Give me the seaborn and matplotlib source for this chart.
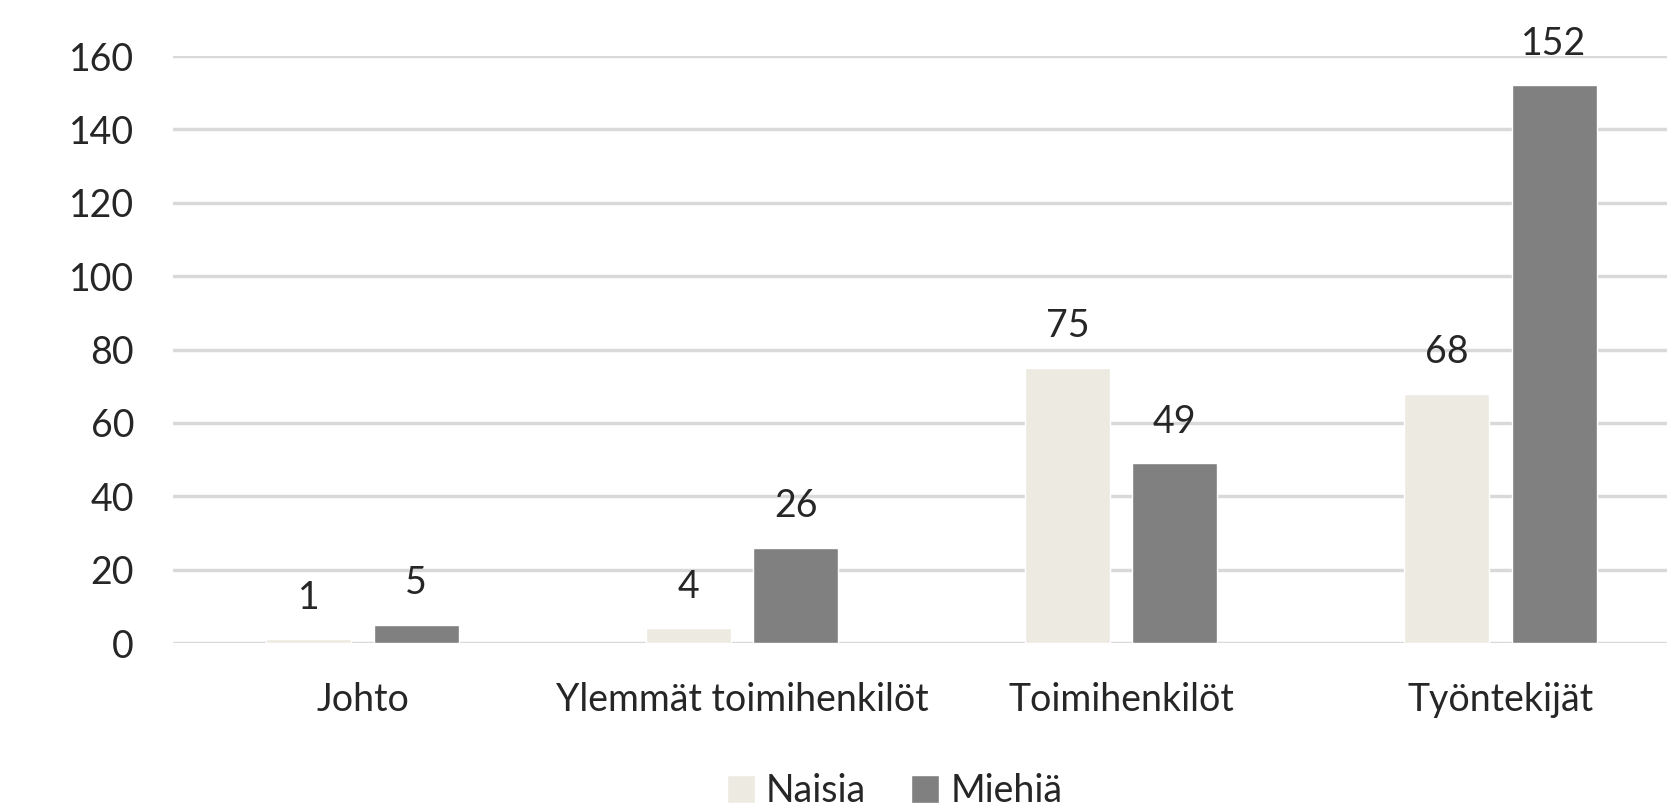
import matplotlib
matplotlib.use("Agg")
import matplotlib.pyplot as plt
import seaborn as sns
import pandas as pd

categories = ["Johto", "Ylemmät toimihenkilöt", "Toimihenkilöt", "Työntekijät"]
naisia = [1, 4, 75, 68]
miehia = [5, 26, 49, 152]
series_names = ["Naisia", "Miehiä"]
yticks = [0, 20, 40, 60, 80, 100, 120, 140, 160]

df = pd.DataFrame({
    "Ryhmä": categories * 2,
    "Sukupuoli": [series_names[0]] * 4 + [series_names[1]] * 4,
    "Määrä": naisia + miehia,
})

sns.set_theme(style="white")
plt.rcParams['font.family'] = ['Lato', 'DejaVu Sans']

FS = 27

fig = plt.figure(figsize=(16.67, 8.07), dpi=100)
ax = fig.add_axes([173/1667, 1 - 643/807, 1517/1667, (643-56)/807])

palette = {"Naisia": "#EDEBE1", "Miehiä": "#808080"}
sns.barplot(data=df, x="Ryhmä", y="Määrä", hue="Sukupuoli", order=categories,
            hue_order=series_names, palette=palette, width=0.566, gap=0.208,
            saturation=1, ax=ax, zorder=3, legend=True)

ax.set_xlim(-0.5, 3.5)
ax.set_ylim(0, 160)
ax.set_yticks(yticks)
ax.set_yticklabels([str(t) for t in yticks], fontsize=FS)
ax.yaxis.grid(True, color="#D9D9D9", linewidth=2.5, zorder=0)
ax.set_axisbelow(True)
for s in ax.spines.values():
    s.set_visible(False)
ax.tick_params(axis="y", length=0, pad=28)
ax.tick_params(axis="x", length=0, pad=28, labelsize=FS)
ax.set_xlabel("")
ax.set_ylabel("")

for cont in ax.containers:
    ax.bar_label(cont, fmt="%d", padding=17, fontsize=FS, clip_on=False)

handles, labels = ax.get_legend_handles_labels()
ax.legend(handles, labels, loc="center", bbox_to_anchor=(0.4757, -0.252), ncol=2,
          frameon=False, fontsize=FS, handlelength=0.75, handleheight=0.75,
          handletextpad=0.3, columnspacing=1.2)

fig.savefig("out.png", dpi=100)
